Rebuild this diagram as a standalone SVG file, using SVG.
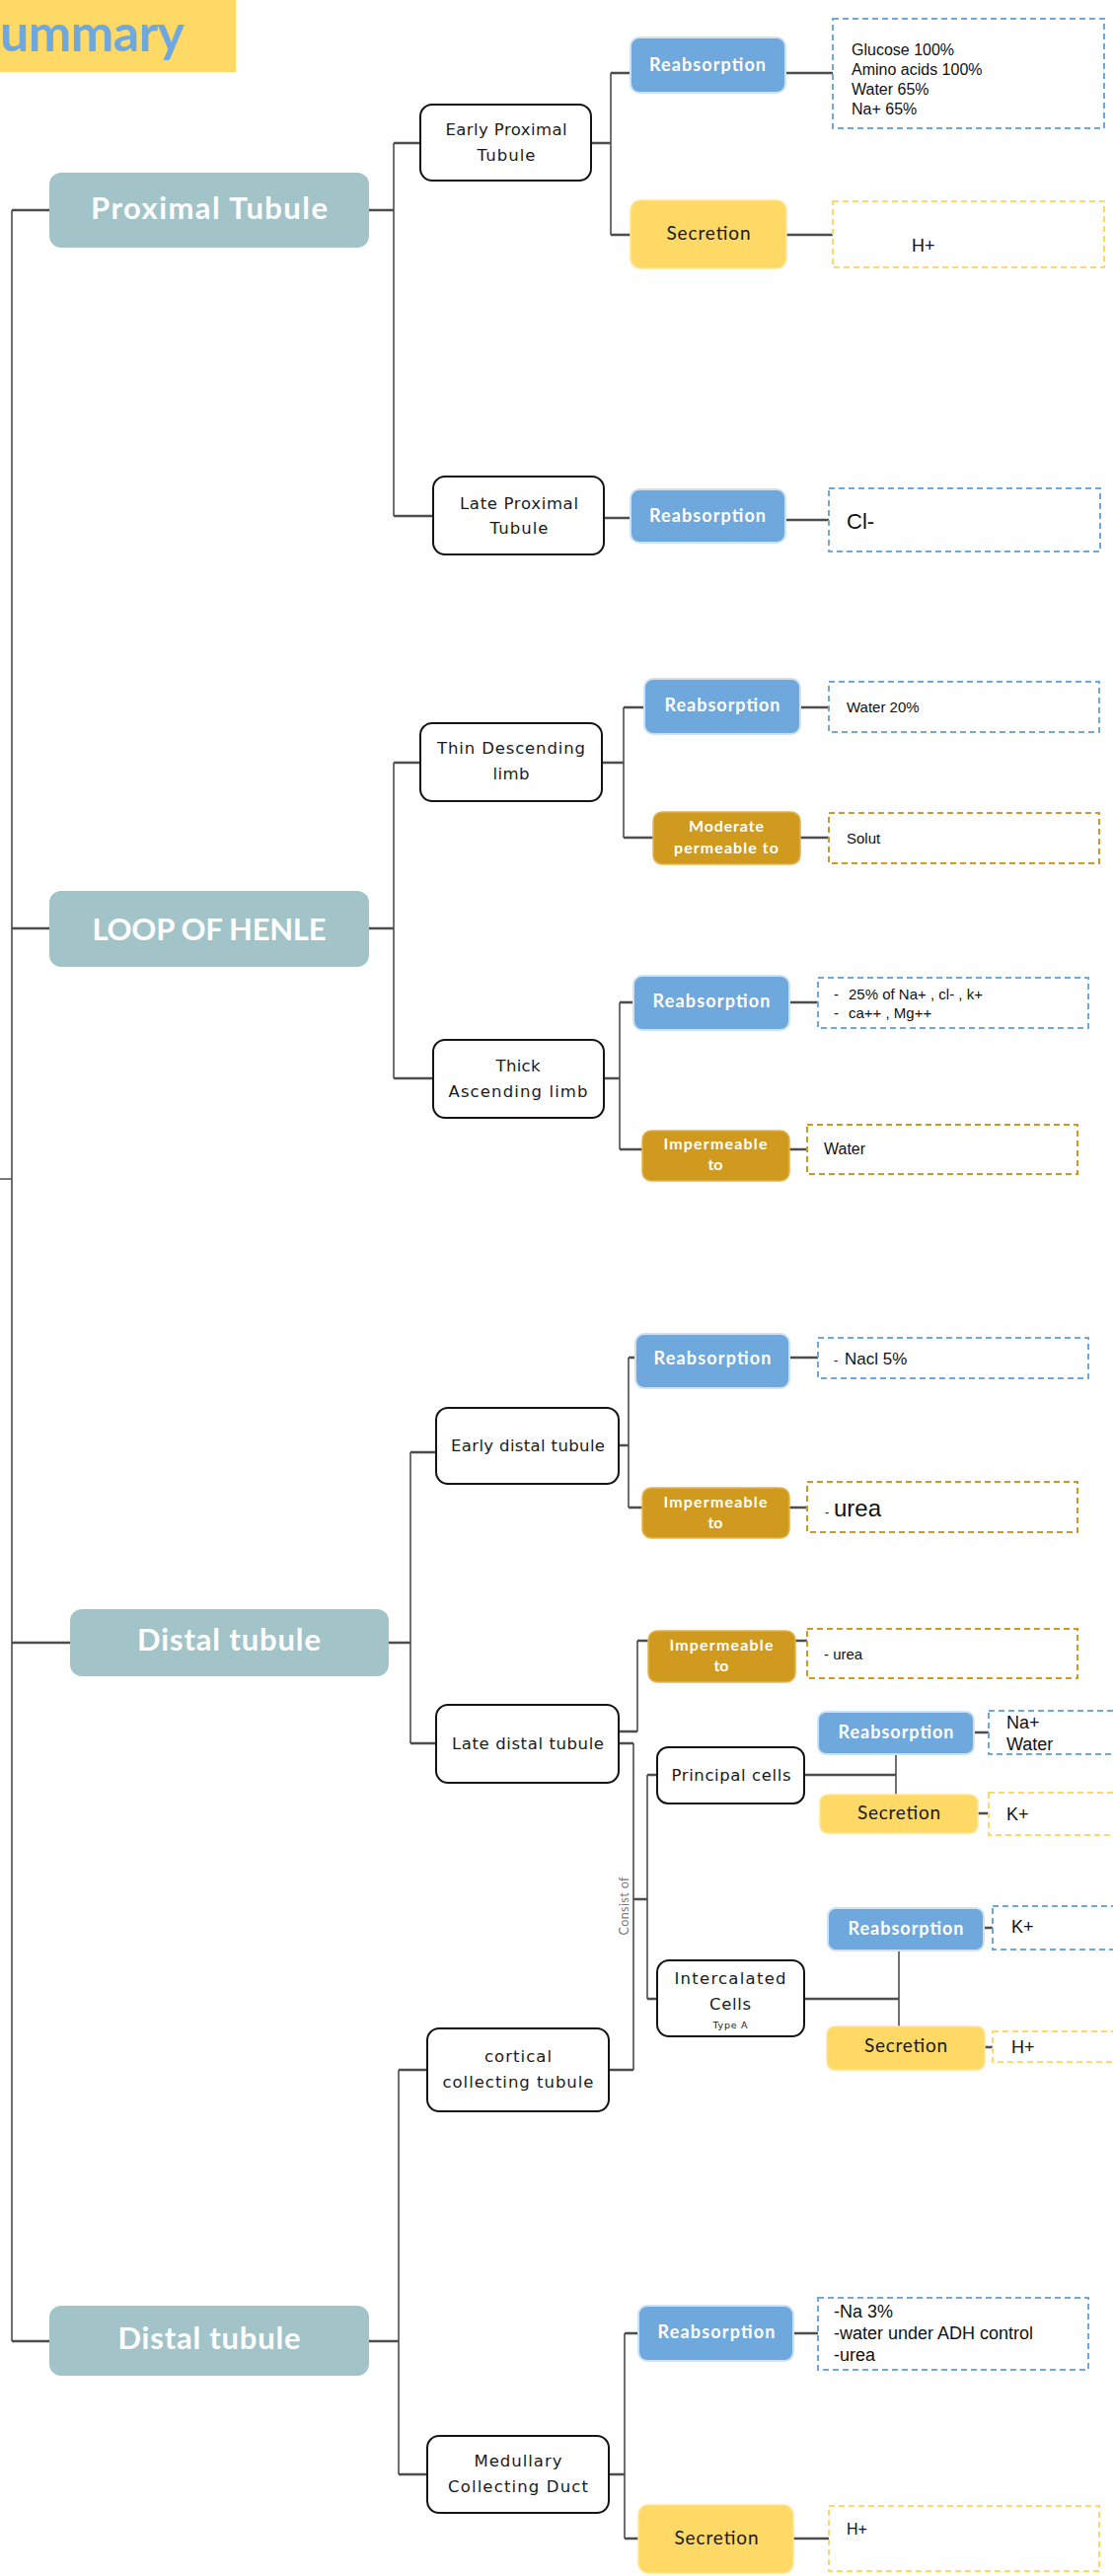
<svg xmlns="http://www.w3.org/2000/svg" width="1128" height="2611" viewBox="0 0 1128 2611">
  <style>
    .hdr { fill: #a2c4c9; }
    .hdr-t { font-family: Lato, "DejaVu Sans", sans-serif; font-weight: 700; font-size: 31px; fill: #ffffff; text-anchor: middle; }
    .nd { fill: #ffffff; stroke: #141414; stroke-width: 2; }
    .nd-t { font-family: "DejaVu Sans", Lato, sans-serif; font-size: 16.5px; fill: #1a1a1a; text-anchor: middle; }
    .reab { fill: #6fa8dc; stroke: #cfe2f3; stroke-width: 2; }
    .sec { fill: #ffd966; stroke: #ffe599; stroke-width: 1.5; }
    .imp { fill: #d09a1e; stroke: #e3b452; stroke-width: 1.5; }
    .lbl-w { font-family: Lato, "DejaVu Sans", sans-serif; font-weight: 700; font-size: 18px; fill: #ffffff; text-anchor: middle; }
    .lbl-ws { font-family: Lato, "DejaVu Sans", sans-serif; font-weight: 700; font-size: 16px; fill: #ffffff; text-anchor: middle; }
    .lbl-k { font-family: Lato, "DejaVu Sans", sans-serif; font-size: 19px; fill: #1a1a1a; text-anchor: middle; }
    .db { fill: #ffffff; stroke: #6fa8dc; stroke-width: 2; stroke-dasharray: 6 4; }
    .dy { fill: #ffffff; stroke: #ffd966; stroke-width: 2; stroke-dasharray: 6 4; }
    .dg { fill: #ffffff; stroke: #d09a1e; stroke-width: 2; stroke-dasharray: 6 4; }
    .v { font-family: "Liberation Sans", Arial, sans-serif; fill: #111111; }
    .wire { fill: none; stroke: #4d4d4d; stroke-width: 1.6; }
    .wire-h { fill: none; stroke: #4d4d4d; stroke-width: 2.4; }
  </style>

  <!-- title banner -->
  <g id="title">
    <rect x="0" y="0" width="239" height="73" fill="#ffd966"/>
    <text x="0" y="52" font-family="Lato, 'DejaVu Sans', sans-serif" font-weight="700" font-size="52" fill="#6fa8dc" textLength="187">ummary</text>
  </g>

  <!-- connectors -->
  <g id="connectors">
    <path class="wire" d="M12 213 V2373 M0 1195 H12"/>
    <path class="wire-h" d="M12 213 H50 M12 941 H50 M12 1665 H71 M12 2373 H50"/>

    <!-- proximal tubule -->
    <path class="wire" d="M399 145 V523"/>
    <path class="wire-h" d="M374 213 H399 M399 145 H426 M399 523 H439"/>
    <path class="wire" d="M619 74 V238"/>
    <path class="wire-h" d="M599 145 H619 M619 74 H639 M619 238 H639 M796 74 H844 M797 238 H844 M612 525 H639 M796 527 H840"/>

    <!-- loop of henle -->
    <path class="wire" d="M399 773 V1093"/>
    <path class="wire-h" d="M374 941 H399 M399 773 H426 M399 1093 H439"/>
    <path class="wire" d="M632 717 V849"/>
    <path class="wire-h" d="M610 773 H632 M632 717 H653 M632 849 H662 M811 717 H840 M811 849 H840"/>
    <path class="wire" d="M628 1016 V1165"/>
    <path class="wire-h" d="M612 1093 H628 M628 1016 H642 M628 1165 H651 M800 1016 H829 M800 1165 H818"/>

    <!-- distal tubule -->
    <path class="wire" d="M416 1472 V1767"/>
    <path class="wire-h" d="M394 1665 H416 M416 1472 H442 M416 1767 H442"/>
    <path class="wire" d="M637 1376 V1528"/>
    <path class="wire-h" d="M627 1465 H637 M637 1376 H644 M637 1528 H651 M800 1376 H829 M800 1528 H818"/>
    <path class="wire" d="M646 1663 V1755 M642 1767 V2098 M656 1799 V2026"/>
    <path class="wire-h" d="M627 1755 H646 M646 1663 H657 M806 1663 H818 M627 1767 H642 M617 2098 H642 M642 1925 H656 M656 1799 H666 M656 2026 H666"/>
    <path class="wire" d="M908 1778 V1819 M911 1977 V2054"/>
    <path class="wire-h" d="M815 1799 H908 M815 2026 H911 M987 1756 H1002 M991 1838 H1002 M997 1954 H1006 M998 2075 H1006"/>

    <!-- collecting ducts -->
    <path class="wire" d="M404 2098 V2508"/>
    <path class="wire-h" d="M374 2373 H404 M404 2098 H433 M404 2508 H433"/>
    <path class="wire" d="M633 2365 V2573"/>
    <path class="wire-h" d="M617 2508 H633 M633 2365 H647 M633 2573 H647 M804 2365 H829 M804 2573 H840"/>

    <text transform="translate(637 1932) rotate(-90)" text-anchor="middle" font-family="Lato, 'DejaVu Sans', sans-serif" font-size="12.5" fill="#7a7a7a" textLength="59">Consist of</text>
  </g>

  <!-- top-level segments -->
  <g id="proximal-tubule">
    <rect class="hdr" x="50" y="175" width="324" height="76" rx="12"/>
    <text class="hdr-t" x="212" y="222" textLength="240">Proximal Tubule</text>
  </g>
  <g id="loop-of-henle">
    <rect class="hdr" x="50" y="903" width="324" height="77" rx="12"/>
    <text class="hdr-t" x="212" y="953" textLength="237">LOOP OF HENLE</text>
  </g>
  <g id="distal-tubule">
    <rect class="hdr" x="71" y="1631" width="323" height="68" rx="12"/>
    <text class="hdr-t" x="232" y="1673" textLength="186">Distal tubule</text>
  </g>
  <g id="distal-tubule-2">
    <rect class="hdr" x="50" y="2337" width="324" height="71" rx="12"/>
    <text class="hdr-t" x="212" y="2381" textLength="185">Distal tubule</text>
  </g>

  <!-- proximal tubule branch -->
  <g id="early-proximal">
    <rect class="nd" x="426" y="106" width="173" height="77" rx="12"/>
    <text class="nd-t" x="513" y="137" textLength="123">Early Proximal</text>
    <text class="nd-t" x="513" y="163" textLength="59">Tubule</text>
  </g>
  <g id="epr-reab">
    <rect class="reab" x="639" y="38" width="157" height="56" rx="9"/>
    <text class="lbl-w" x="717" y="72" textLength="118">Reabsorption</text>
  </g>
  <g id="epr-reab-list">
    <rect class="db" x="844" y="19" width="275" height="111"/>
    <text class="v" x="863" y="56" font-size="16">Glucose 100%</text>
    <text class="v" x="863" y="76" font-size="16">Amino acids 100%</text>
    <text class="v" x="863" y="96" font-size="16">Water 65%</text>
    <text class="v" x="863" y="116" font-size="16">Na+ 65%</text>
  </g>
  <g id="epr-sec">
    <rect class="sec" x="639" y="203" width="158" height="69" rx="10"/>
    <text class="lbl-k" x="718" y="243" textLength="85">Secretion</text>
  </g>
  <g id="epr-sec-list">
    <rect class="dy" x="844" y="204" width="275" height="67"/>
    <text class="v" x="924" y="255" font-size="18">H+</text>
  </g>
  <g id="late-proximal">
    <rect class="nd" x="439" y="483" width="173" height="79" rx="12"/>
    <text class="nd-t" x="526" y="516" textLength="120">Late Proximal</text>
    <text class="nd-t" x="526" y="541" textLength="59">Tubule</text>
  </g>
  <g id="lpr-reab">
    <rect class="reab" x="639" y="496" width="157" height="54" rx="9"/>
    <text class="lbl-w" x="717" y="529" textLength="118">Reabsorption</text>
  </g>
  <g id="lpr-reab-list">
    <rect class="db" x="840" y="495" width="275" height="64"/>
    <text class="v" x="858" y="536" font-size="22">Cl-</text>
  </g>

  <!-- loop of henle branch -->
  <g id="thin-descending">
    <rect class="nd" x="426" y="733" width="184" height="79" rx="12"/>
    <text class="nd-t" x="518" y="764" textLength="150">Thin Descending</text>
    <text class="nd-t" x="518" y="790" textLength="37">limb</text>
  </g>
  <g id="tdl-reab">
    <rect class="reab" x="653" y="688" width="158" height="56" rx="9"/>
    <text class="lbl-w" x="732" y="721" textLength="117">Reabsorption</text>
  </g>
  <g id="tdl-reab-list">
    <rect class="db" x="840" y="691" width="274" height="51"/>
    <text class="v" x="858" y="722" font-size="15">Water 20%</text>
  </g>
  <g id="tdl-perm">
    <rect class="imp" x="662" y="823" width="149" height="53" rx="9"/>
    <text class="lbl-ws" x="736" y="843" textLength="76">Moderate</text>
    <text class="lbl-ws" x="736" y="865" textLength="106">permeable to</text>
  </g>
  <g id="tdl-perm-list">
    <rect class="dg" x="840" y="824" width="274" height="51"/>
    <text class="v" x="858" y="855" font-size="15">Solut</text>
  </g>
  <g id="thick-ascending">
    <rect class="nd" x="439" y="1054" width="173" height="79" rx="12"/>
    <text class="nd-t" x="525" y="1086" textLength="45">Thick</text>
    <text class="nd-t" x="525" y="1112" textLength="141">Ascending limb</text>
  </g>
  <g id="tal-reab">
    <rect class="reab" x="642" y="989" width="158" height="55" rx="9"/>
    <text class="lbl-w" x="721" y="1021" textLength="119">Reabsorption</text>
  </g>
  <g id="tal-reab-list">
    <rect class="db" x="829" y="991" width="274" height="51"/>
    <text class="v" x="845" y="1013" font-size="15">-</text>
    <text class="v" x="860" y="1013" font-size="15">25% of Na+ , cl- , k+</text>
    <text class="v" x="845" y="1032" font-size="15">-</text>
    <text class="v" x="860" y="1032" font-size="15">ca++ , Mg++</text>
  </g>
  <g id="tal-imp">
    <rect class="imp" x="651" y="1146" width="149" height="51" rx="9"/>
    <text class="lbl-ws" x="725" y="1165" textLength="105">Impermeable</text>
    <text class="lbl-ws" x="725" y="1186">to</text>
  </g>
  <g id="tal-imp-list">
    <rect class="dg" x="818" y="1140" width="274" height="50"/>
    <text class="v" x="835" y="1170" font-size="16">Water</text>
  </g>

  <!-- distal tubule branch -->
  <g id="early-distal">
    <rect class="nd" x="442" y="1427" width="185" height="77" rx="12"/>
    <text class="nd-t" x="535" y="1471" textLength="156">Early distal tubule</text>
  </g>
  <g id="edt-reab">
    <rect class="reab" x="644" y="1352" width="156" height="55" rx="9"/>
    <text class="lbl-w" x="722" y="1383" textLength="119">Reabsorption</text>
  </g>
  <g id="edt-reab-list">
    <rect class="db" x="829" y="1356" width="274" height="41"/>
    <text class="v" x="845" y="1383" font-size="13">-</text>
    <text class="v" x="856" y="1383" font-size="17">Nacl 5%</text>
  </g>
  <g id="edt-imp">
    <rect class="imp" x="651" y="1508" width="149" height="51" rx="9"/>
    <text class="lbl-ws" x="725" y="1528" textLength="105">Impermeable</text>
    <text class="lbl-ws" x="725" y="1549">to</text>
  </g>
  <g id="edt-imp-list">
    <rect class="dg" x="818" y="1502" width="274" height="51"/>
    <text class="v" x="836" y="1537" font-size="13">-</text>
    <text class="v" x="845" y="1537" font-size="24">urea</text>
  </g>
  <g id="late-distal">
    <rect class="nd" x="442" y="1728" width="185" height="79" rx="12"/>
    <text class="nd-t" x="535" y="1773" textLength="154">Late distal tubule</text>
  </g>
  <g id="ldt-imp">
    <rect class="imp" x="657" y="1653" width="149" height="52" rx="9"/>
    <text class="lbl-ws" x="731" y="1673" textLength="105">Impermeable</text>
    <text class="lbl-ws" x="731" y="1694">to</text>
  </g>
  <g id="ldt-imp-list">
    <rect class="dg" x="818" y="1651" width="274" height="50"/>
    <text class="v" x="835" y="1682" font-size="15">- urea</text>
  </g>
  <g id="principal-cells">
    <rect class="nd" x="666" y="1771" width="149" height="57" rx="11"/>
    <text class="nd-t" x="741" y="1805" textLength="121">Principal cells</text>
  </g>
  <g id="pc-reab">
    <rect class="reab" x="829" y="1735" width="158" height="43" rx="8"/>
    <text class="lbl-w" x="908" y="1762" textLength="117">Reabsorption</text>
  </g>
  <g id="pc-reab-list">
    <rect class="db" x="1002" y="1734" width="200" height="44"/>
    <text class="v" x="1020" y="1752" font-size="18">Na+</text>
    <text class="v" x="1020" y="1774" font-size="18">Water</text>
  </g>
  <g id="pc-sec">
    <rect class="sec" x="831" y="1819" width="160" height="39" rx="8"/>
    <text class="lbl-k" x="911" y="1844" textLength="84">Secretion</text>
  </g>
  <g id="pc-sec-list">
    <rect class="dy" x="1002" y="1817" width="200" height="43"/>
    <text class="v" x="1020" y="1845" font-size="18">K+</text>
  </g>
  <g id="intercalated-cells">
    <rect class="nd" x="666" y="1987" width="149" height="77" rx="12"/>
    <text class="nd-t" x="740" y="2011" textLength="113">Intercalated</text>
    <text class="nd-t" x="740" y="2037" textLength="42">Cells</text>
    <text x="740" y="2056" text-anchor="middle" font-family="'DejaVu Sans', Lato, sans-serif" font-size="9.5" fill="#1a1a1a" textLength="35">Type A</text>
  </g>
  <g id="ic-reab">
    <rect class="reab" x="839" y="1934" width="158" height="43" rx="8"/>
    <text class="lbl-w" x="918" y="1961" textLength="117">Reabsorption</text>
  </g>
  <g id="ic-reab-list">
    <rect class="db" x="1006" y="1932" width="200" height="44"/>
    <text class="v" x="1025" y="1959" font-size="18">K+</text>
  </g>
  <g id="ic-sec">
    <rect class="sec" x="838" y="2054" width="160" height="44" rx="8"/>
    <text class="lbl-k" x="918" y="2080" textLength="84">Secretion</text>
  </g>
  <g id="ic-sec-list">
    <rect class="dy" x="1006" y="2059" width="200" height="31"/>
    <text class="v" x="1025" y="2081" font-size="18">H+</text>
  </g>

  <!-- collecting duct branch -->
  <g id="cortical-collecting">
    <rect class="nd" x="433" y="2056" width="184" height="84" rx="12"/>
    <text class="nd-t" x="525" y="2090" textLength="68">cortical</text>
    <text class="nd-t" x="525" y="2116" textLength="153">collecting tubule</text>
  </g>
  <g id="medullary-collecting">
    <rect class="nd" x="433" y="2469" width="184" height="78" rx="12"/>
    <text class="nd-t" x="525" y="2500" textLength="89">Medullary</text>
    <text class="nd-t" x="525" y="2526" textLength="142">Collecting Duct</text>
  </g>
  <g id="mcd-reab">
    <rect class="reab" x="647" y="2337" width="157" height="56" rx="9"/>
    <text class="lbl-w" x="726" y="2370" textLength="119">Reabsorption</text>
  </g>
  <g id="mcd-reab-list">
    <rect class="db" x="829" y="2329" width="274" height="73"/>
    <text class="v" x="845" y="2349" font-size="18">-Na 3%</text>
    <text class="v" x="845" y="2371" font-size="18">-water under ADH control</text>
    <text class="v" x="845" y="2393" font-size="18">-urea</text>
  </g>
  <g id="mcd-sec">
    <rect class="sec" x="647" y="2539" width="157" height="69" rx="10"/>
    <text class="lbl-k" x="726" y="2579" textLength="85">Secretion</text>
  </g>
  <g id="mcd-sec-list">
    <rect class="dy" x="840" y="2540" width="274" height="66"/>
    <text class="v" x="858" y="2569" font-size="16">H+</text>
  </g>
</svg>
